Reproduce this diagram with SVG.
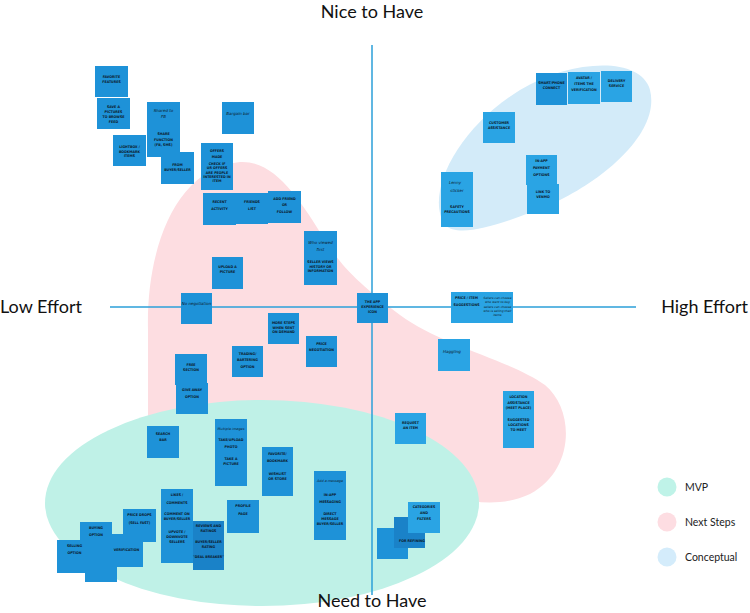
<svg xmlns="http://www.w3.org/2000/svg" width="750" height="613" viewBox="0 0 750 613">
<style>
.n{fill:#1e92d8}
.l{fill:#2aa4e4}
.d{fill:#1a82c8}
.t{font-family:"DejaVu Sans Condensed","DejaVu Sans",sans-serif;font-size:3.6px;font-weight:bold;fill:#0c1a2b;text-anchor:middle}
.s{font-family:"DejaVu Sans",sans-serif;font-size:4px;font-style:italic;fill:#0c1a2b;text-anchor:middle}
.ax{font-family:Lato,"Open Sans",sans-serif;font-size:18px;fill:#111}
.lg{font-family:Lato,"Open Sans",sans-serif;font-size:10.5px;fill:#222}
.axis{stroke:#2b9fd8;stroke-width:1.5;fill:none}
</style>
<rect width="750" height="613" fill="#fff"/>
<g id="regions">
<path d="M148,330 C146,250 175,168 240,162 C275,160 300,200 325,240 C340,265 360,285 400,315 C440,345 510,360 545,385 C575,410 575,470 530,494 C495,510 455,502 420,482 L300,440 L148,430 Z" fill="#fddde1"/>
<ellipse cx="262" cy="503" rx="217" ry="103" fill="#bff1e7"/>
<path d="M445,225 C425,195 455,130 520,90 C570,60 640,55 650,90 C660,130 610,175 560,200 C510,222 460,240 445,225 Z" fill="#d3ebf9"/>
</g>
<g id="connectors">
<line class="axis" x1="110" y1="307" x2="636" y2="307"/>
<line class="axis" x1="372" y1="45" x2="372" y2="595"/>
</g>
<g id="axis-labels">
<text class="ax" x="372" y="18" text-anchor="middle">Nice to Have</text>
<text class="ax" x="0" y="313">Low Effort</text>
<text class="ax" x="748" y="313" text-anchor="end">High Effort</text>
<text class="ax" x="372" y="607" text-anchor="middle">Need to Have</text>
</g>
<g id="legend">
<circle cx="667" cy="487" r="9.5" fill="#bff3e8"/><text class="lg" x="685" y="491">MVP</text>
<circle cx="667" cy="522" r="9.5" fill="#fddde2"/><text class="lg" x="685" y="526">Next Steps</text>
<circle cx="667" cy="557" r="9.5" fill="#d4ecfb"/><text class="lg" x="685" y="561">Conceptual</text>
</g>
<g id="n1"><rect class="n" x="95" y="66" width="33" height="31"/><text class="t" x="111.5" y="78"><tspan x="111.5">FAVORITE</tspan><tspan x="111.5" dy="5">FEATURES</tspan></text></g>
<g id="n2"><rect class="n" x="97" y="98" width="33" height="31"/><text class="t" x="113.5" y="108"><tspan x="113.5">SAVE A</tspan><tspan x="113.5" dy="5">PICTURES</tspan><tspan x="113.5" dy="5">TO BROWSE</tspan><tspan x="113.5" dy="5">FEED</tspan></text></g>
<g id="n3"><rect class="n" x="113" y="135" width="33" height="31"/><text class="t" x="129.5" y="148"><tspan x="129.5">LIGHTBOX /</tspan><tspan x="129.5" dy="4.5">BOOKMARK</tspan><tspan x="129.5" dy="4.5">ITEMS</tspan></text></g>
<g id="n4"><rect class="n" x="147" y="102" width="33" height="55"/><text class="s" x="163.5" y="112"><tspan x="163.5">Shared to</tspan><tspan x="163.5" dy="6">FB</tspan></text><text class="t" x="163.5" y="135"><tspan x="163.5">SHARE</tspan><tspan x="163.5" dy="5.5">FUNCTION</tspan><tspan x="163.5" dy="5.5">(FB, SMS)</tspan></text></g>
<g id="n5"><rect class="n" x="161" y="152" width="33" height="32"/><text class="t" x="177.5" y="166"><tspan x="177.5">FROM</tspan><tspan x="177.5" dy="4.5">BUYER/SELLER</tspan></text></g>
<g id="n6"><rect class="n" x="222" y="102" width="32" height="32"/><text class="s" x="238" y="115">Bargain bar</text></g>
<g id="n7"><rect class="n" x="201" y="143" width="32" height="47"/><text class="t" x="217" y="152"><tspan x="217">OFFERS</tspan><tspan x="217" dy="6">MADE</tspan><tspan x="217" dy="7">CHECK IF</tspan><tspan x="217" dy="4.3">UR OFFERS</tspan><tspan x="217" dy="4.3">ARE PEOPLE</tspan><tspan x="217" dy="4.3">INTERESTED IN</tspan><tspan x="217" dy="4.3">ITEM</tspan></text></g>
<g id="n8"><rect class="n" x="203" y="193" width="33" height="32"/><text class="t" x="219.5" y="203"><tspan x="219.5">RECENT</tspan><tspan x="219.5" dy="7">ACTIVITY</tspan></text></g>
<g id="n9"><rect class="n" x="236" y="193" width="32" height="31"/><text class="t" x="252" y="203"><tspan x="252">FRIENDS</tspan><tspan x="252" dy="7">LIST</tspan></text></g>
<g id="n10"><rect class="n" x="268" y="191" width="33" height="32"/><text class="t" x="284.5" y="200"><tspan x="284.5">ADD FRIEND</tspan><tspan x="284.5" dy="6">OR</tspan><tspan x="284.5" dy="7">FOLLOW</tspan></text></g>
<g id="n11"><rect class="n" x="304" y="231" width="33" height="54"/><text class="s" x="320.5" y="244"><tspan x="320.5">Who viewed</tspan><tspan x="320.5" dy="7">first</tspan></text><text class="t" x="320.5" y="263"><tspan x="320.5">SELLER VIEWS</tspan><tspan x="320.5" dy="4.5">HISTORY OR</tspan><tspan x="320.5" dy="4.5">INFORMATION</tspan></text></g>
<g id="n12"><rect class="n" x="212" y="257" width="31" height="32"/><text class="t" x="227.5" y="268"><tspan x="227.5">UPLOAD A</tspan><tspan x="227.5" dy="5">PICTURE</tspan></text></g>
<g id="n13"><rect class="n" x="181" y="293" width="31" height="31"/><text class="s" x="196.5" y="305">No negotiation</text></g>
<g id="n19"><rect class="n" x="357" y="293" width="31" height="30"/><text class="t" x="372.5" y="303"><tspan x="372.5">THE APP</tspan><tspan x="372.5" dy="5">EXPERIENCE</tspan><tspan x="372.5" dy="5">ICON</tspan></text></g>
<g id="n14"><rect class="n" x="268" y="313" width="31" height="31"/><text class="t" x="283.5" y="324"><tspan x="283.5">MORE STEPS</tspan><tspan x="283.5" dy="4.5">WHEN SENT</tspan><tspan x="283.5" dy="4.5">ON DEMAND</tspan></text></g>
<g id="n15"><rect class="n" x="306" y="336" width="31" height="31"/><text class="t" x="321.5" y="345"><tspan x="321.5">PRICE</tspan><tspan x="321.5" dy="6">NEGOTIATION</tspan></text></g>
<g id="n16"><rect class="n" x="232" y="346" width="31" height="31"/><text class="t" x="247.5" y="355"><tspan x="247.5">TRADING/</tspan><tspan x="247.5" dy="6">BARTERING</tspan><tspan x="247.5" dy="7">OPTION</tspan></text></g>
<g id="n17"><rect class="n" x="175" y="354" width="32" height="31"/><text class="t" x="191" y="366"><tspan x="191">FREE</tspan><tspan x="191" dy="5">SECTION</tspan></text></g>
<g id="n18"><rect class="n" x="176" y="383" width="32" height="31"/><text class="t" x="192" y="391"><tspan x="192">GIVE AWAY</tspan><tspan x="192" dy="7">OPTION</tspan></text></g>
<g id="n20a"><rect class="l" x="451" y="292" width="31" height="31"/><text class="t" x="466.5" y="299"><tspan x="466.5">PRICE / ITEM</tspan><tspan x="466.5" dy="7">SUGGESTIONS</tspan></text></g>
<g id="n20b"><rect class="l" x="482" y="292" width="31" height="31"/><text class="s" x="497.5" y="299" style="font-size:3px"><tspan x="497.5">Sellers can choose</tspan><tspan x="497.5" dy="4">who want to buy</tspan><tspan x="497.5" dy="5">sellers can choose</tspan><tspan x="497.5" dy="4">who is selling their</tspan><tspan x="497.5" dy="4">items</tspan></text></g>
<g id="n21"><rect class="l" x="438" y="339" width="32" height="32"/><text class="s" x="452" y="353">Haggling</text></g>
<g id="n22"><rect class="l" x="395" y="413" width="31" height="31"/><text class="t" x="410.5" y="424"><tspan x="410.5">REQUEST</tspan><tspan x="410.5" dy="5">AN ITEM</tspan></text></g>
<g id="n23"><rect class="l" x="503" y="391" width="31" height="57"/><text class="t" x="518.5" y="398"><tspan x="518.5">LOCATION</tspan><tspan x="518.5" dy="5.5">ASSISTANCE</tspan><tspan x="518.5" dy="5.5">(MEET PLACE)</tspan><tspan x="518.5" dy="12">SUGGESTED</tspan><tspan x="518.5" dy="5">LOCATIONS</tspan><tspan x="518.5" dy="5">TO MEET</tspan></text></g>
<g id="n24c"><rect class="n" x="377" y="528" width="31" height="31"/></g>
<g id="n24b"><rect class="d" x="394" y="517" width="31" height="31"/><text class="t" x="412" y="542">FOR REFINING</text></g>
<g id="n24a"><rect class="l" x="408" y="502" width="32" height="31"/><text class="t" x="424" y="508"><tspan x="424">CATEGORIES</tspan><tspan x="424" dy="6">AND</tspan><tspan x="424" dy="6">FILTERS</tspan></text></g>
<g id="n25"><rect class="n" x="536" y="73" width="31" height="32"/><text class="t" x="551.5" y="84"><tspan x="551.5">SMART/PHONE</tspan><tspan x="551.5" dy="4.5">CONNECT</tspan></text></g>
<g id="n26"><rect class="l" x="568" y="72" width="32" height="32"/><text class="t" x="584" y="79"><tspan x="584">AVATAR /</tspan><tspan x="584" dy="6">ITEMS THE</tspan><tspan x="584" dy="6">VERIFICATION</tspan></text></g>
<g id="n27"><rect class="l" x="601" y="71" width="31" height="31"/><text class="t" x="616.5" y="82"><tspan x="616.5">DELIVERY</tspan><tspan x="616.5" dy="4.5">SERVICE</tspan></text></g>
<g id="n28"><rect class="l" x="483" y="112" width="32" height="31"/><text class="t" x="499" y="124"><tspan x="499">CUSTOMER</tspan><tspan x="499" dy="4.5">ASSISTANCE</tspan></text></g>
<g id="n29b"><rect class="l" x="527" y="184" width="32" height="30"/><text class="t" x="543" y="193"><tspan x="543">LINK TO</tspan><tspan x="543" dy="4.5">VENMO</tspan></text></g>
<g id="n29a"><rect class="l" x="526" y="155" width="31" height="30"/><text class="t" x="541.5" y="162"><tspan x="541.5">IN-APP</tspan><tspan x="541.5" dy="7">PAYMENT</tspan><tspan x="541.5" dy="7">OPTIONS</tspan></text></g>
<g id="n30"><rect class="l" x="441" y="172" width="32" height="55"/><text class="s" x="457" y="184"><tspan x="455">Lenny</tspan><tspan x="457" dy="8">sticker</tspan></text><text class="t" x="457" y="208"><tspan x="457">SAFETY</tspan><tspan x="457" dy="5">PRECAUTIONS</tspan></text></g>
<g id="n31"><rect class="n" x="147" y="426" width="32" height="32"/><text class="t" x="163" y="435"><tspan x="163">SEARCH</tspan><tspan x="163" dy="6">BAR</tspan></text></g>
<g id="n32"><rect class="n" x="215" y="419" width="32" height="67"/><text class="s" x="231" y="430" style="font-size:3.4px">Multiple images</text><text class="t" x="231" y="441"><tspan x="231">TAKE/UPLOAD</tspan><tspan x="231" dy="7">PHOTO</tspan><tspan x="231" dy="12">TAKE A</tspan><tspan x="231" dy="5">PICTURE</tspan></text></g>
<g id="n33"><rect class="n" x="262" y="447" width="31" height="49"/><text class="t" x="277.5" y="455"><tspan x="277.5">FAVORITE/</tspan><tspan x="277.5" dy="7">BOOKMARK</tspan><tspan x="277.5" dy="13">WISHLIST</tspan><tspan x="277.5" dy="5">OR STORE</tspan></text></g>
<g id="n34"><rect class="n" x="227" y="500" width="32" height="33"/><text class="t" x="243" y="507"><tspan x="243">PROFILE</tspan><tspan x="243" dy="8">PAGE</tspan></text></g>
<g id="n35"><rect class="n" x="314" y="471" width="32" height="69"/><text class="s" x="330" y="482" style="font-size:3.4px">Add a message</text><text class="t" x="330" y="496"><tspan x="330">IN-APP</tspan><tspan x="330" dy="7">MESSAGING</tspan><tspan x="330" dy="12">DIRECT</tspan><tspan x="330" dy="5">MESSAGE</tspan><tspan x="330" dy="5">BUYER/SELLER</tspan></text></g>
<g id="n36"><rect class="n" x="161" y="489" width="32" height="74"/><text class="t" x="177" y="496"><tspan x="177">LIKES /</tspan><tspan x="177" dy="8">COMMENTS</tspan><tspan x="177" dy="11">COMMENT ON</tspan><tspan x="177" dy="5">BUYER/SELLER</tspan><tspan x="177" dy="13">UPVOTE /</tspan><tspan x="177" dy="5">DOWNVOTE</tspan><tspan x="177" dy="5">SELLERS</tspan></text></g>
<g id="n37"><rect class="d" x="193" y="521" width="31" height="49"/><text class="t" x="208.5" y="527"><tspan x="208.5">REVIEWS AND</tspan><tspan x="208.5" dy="5">RATINGS</tspan><tspan x="208.5" dy="11">BUYER/SELLER</tspan><tspan x="208.5" dy="5">RATING</tspan><tspan x="208.5" dy="10">"DEAL BREAKER"</tspan></text></g>
<g id="n40b"><rect class="n" x="85" y="550" width="32" height="32"/></g>
<g id="n40"><rect class="n" x="80" y="522" width="32" height="50"/><text class="t" x="96" y="529"><tspan x="96">BUYING</tspan><tspan x="96" dy="7">OPTION</tspan></text></g>
<g id="n39"><rect class="n" x="110" y="534" width="33" height="33"/><text class="t" x="126.5" y="551">VERIFICATION</text></g>
<g id="n38"><rect class="n" x="123" y="509" width="33" height="33"/><text class="t" x="139.5" y="516"><tspan x="139.5">PRICE DROPS</tspan><tspan x="139.5" dy="8">(SELL FAST)</tspan></text></g>
<g id="n41"><rect class="n" x="57" y="540" width="35" height="33"/><text class="t" x="74.5" y="547"><tspan x="74.5">SELLING</tspan><tspan x="74.5" dy="7">OPTION</tspan></text></g>
</svg>
